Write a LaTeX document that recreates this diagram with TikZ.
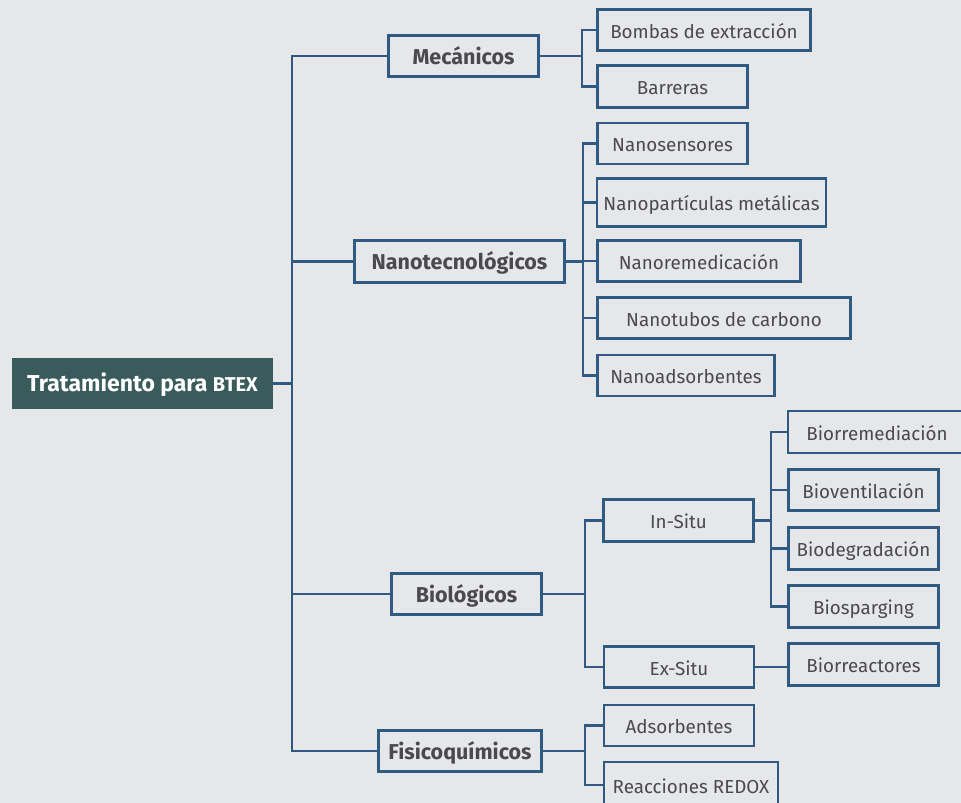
\documentclass[tikz,border=0pt]{standalone}
\usepackage{fontspec}
\setmainfont{Fira Sans}
\definecolor{bg}{HTML}{E6E7E9}
\definecolor{edge}{HTML}{2F5A82}
\definecolor{rootfill}{HTML}{3A5B5B}
\definecolor{txt}{HTML}{4A4A4D}

\begin{document}
\begin{tikzpicture}[x=1pt,y=-1pt,
  box/.style={draw=edge, line width=2.6pt, fill=bg, text=txt,
    font=\fontsize{18.8}{22}\selectfont, inner sep=0pt, outer sep=0pt, anchor=center,
    text height=17pt, text depth=1pt},
  cat/.style={box, font=\bfseries\fontsize{21.5}{24}\selectfont, text height=17.8pt, text depth=1pt},
  rootbox/.style={fill=rootfill, text=white, inner sep=0pt, outer sep=0pt,
    font=\bfseries\fontsize{23}{26}\selectfont, text height=17pt, text depth=1pt},
  link/.style={draw=edge, line width=2.6pt, line join=miter},
]
% canvas
\fill[bg] (0,0) rectangle (961,803);
\useasboundingbox (0,0) rectangle (961,803);

% root
\node[rootbox, minimum width=261pt, minimum height=51pt] (root) at (142.5,383.5)
  {Tratamiento para {\fontsize{20}{22}\selectfont BTEX}};

% first level
\node[cat, minimum width=150pt, minimum height=41pt] (mec)  at (463.5,56)  {Mecánicos};
\node[cat, minimum width=210pt, minimum height=42pt] (nano) at (459.5,261.5) {Nanotecnológicos};
\node[cat, minimum width=150pt, minimum height=41pt] (bio)  at (466.5,594) {Biológicos};
\node[cat, minimum width=163pt, minimum height=41pt] (fis)  at (460,751)  {Fisicoquímicos};

% mechanical
\node[box, minimum width=213pt, minimum height=41pt] (bombas) at (704,30) {Bombas de extracción};
\node[box, minimum width=150pt, minimum height=42pt] (barr)   at (672.5,86.5) {Barreras};

% nanotechnology
\node[box, minimum width=150pt, minimum height=41pt] (nsens) at (672.5,143.5) {Nanosensores};
\node[box, minimum width=229pt, minimum height=48pt] (npart) at (711.5,202.5) {Nanopartículas metálicas};
\node[box, minimum width=203pt, minimum height=41pt] (nrem)  at (699,261) {Nanoremedicación};
\node[box, minimum width=253pt, minimum height=41pt] (ntub)  at (724,318) {Nanotubos de carbono};
\node[box, minimum width=177pt, minimum height=41pt] (nads)  at (686,375.5) {Nanoadsorbentes};

% biological
\node[box, minimum width=150pt, minimum height=42pt] (insitu) at (678.5,520.5) {In-Situ};
\node[box, minimum width=150pt, minimum height=41pt] (exsitu) at (679,667) {Ex-Situ};
\node[box, minimum width=178pt, minimum height=42pt] (brem)  at (877,432) {Biorremediación};
\node[box, minimum width=150pt, minimum height=41pt] (bvent) at (863.5,490) {Bioventilación};
\node[box, minimum width=150pt, minimum height=42pt] (bdeg)  at (863.5,548.5) {Biodegradación};
\node[box, minimum width=150pt, minimum height=42pt] (bspar) at (863.5,606.5) {Biosparging};
\node[box, minimum width=150pt, minimum height=42pt] (breac) at (863.5,664.5) {Biorreactores};

% physicochemical
\node[box, minimum width=150pt, minimum height=41pt] (adso)  at (679,725.5) {Adsorbentes};
\node[box, minimum width=174pt, minimum height=46pt] (redox) at (691,785) {Reacciones REDOX};

% connectors: root to first level
\coordinate (trunk) at (292,383.5);
\draw[link] (root.east) -- (trunk);
\draw[link] (mec.west) -| (trunk |- fis.west) -- (fis.west);
\draw[link] (nano.west) -- (nano.west -| trunk);
\draw[link] (bio.west) -- (bio.west -| trunk);

% mechanical branch
\coordinate (jm) at (582,56);
\draw[link] (mec.east) -- (jm);
\draw[link] (bombas.west) -| (jm) |- (barr.west);

% nanotechnology branch
\coordinate (jn) at (583,261.5);
\draw[link] (nano.east) -- (jn);
\draw[link] (nsens.west) -| (jn |- nads.west) -- (nads.west);
\draw[link] (npart.west) -- (npart.west -| jn);
\draw[link] (nrem.west) -- (nrem.west -| jn);
\draw[link] (ntub.west) -- (ntub.west -| jn);

% biological branch
\coordinate (jb) at (585,594);
\draw[link] (bio.east) -- (jb);
\draw[link] (insitu.west) -| (jb |- exsitu.west) -- (exsitu.west);
\coordinate (ji) at (771,520.5);
\draw[link] (insitu.east) -- (ji);
\draw[link] (brem.west) -| (ji |- bspar.west) -- (bspar.west);
\draw[link] (bvent.west) -- (bvent.west -| ji);
\draw[link] (bdeg.west) -- (bdeg.west -| ji);
\draw[link] (exsitu.east) -- (breac.west |- exsitu.east);

% physicochemical branch
\coordinate (jf) at (585,751);
\draw[link] (fis.east) -- (jf);
\draw[link] (adso.west) -| (jf |- redox.west) -- (redox.west);
\end{tikzpicture}
\end{document}
